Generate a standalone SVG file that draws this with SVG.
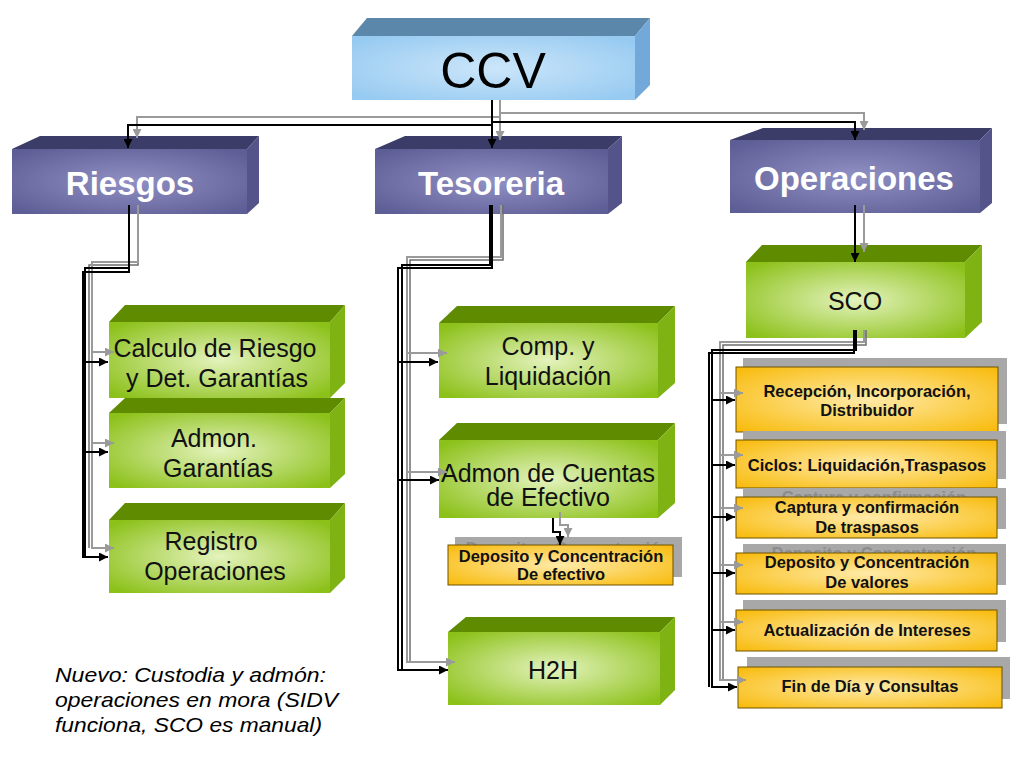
<svg xmlns="http://www.w3.org/2000/svg" width="1024" height="768" viewBox="0 0 1024 768">
<defs>
<radialGradient id="gBlue" cx="0.5" cy="0.5" r="0.65"><stop offset="0" stop-color="#cce6fa"/><stop offset="1" stop-color="#96caf1"/></radialGradient>
<radialGradient id="gPurp" cx="0.5" cy="0.5" r="0.65"><stop offset="0" stop-color="#9090c4"/><stop offset="1" stop-color="#5e5e96"/></radialGradient>
<radialGradient id="gGreen" cx="0.5" cy="0.5" r="0.65"><stop offset="0" stop-color="#e4f3bd"/><stop offset="1" stop-color="#8cc11a"/></radialGradient>
<radialGradient id="gYel" cx="0.5" cy="0.5" r="0.7"><stop offset="0" stop-color="#ffeaa8"/><stop offset="1" stop-color="#f8ba08"/></radialGradient>
<marker id="ak" viewBox="0 0 10 10" refX="10" refY="5" markerWidth="9" markerHeight="9" markerUnits="userSpaceOnUse" orient="auto"><path d="M0,0 L10,5 L0,10 z" fill="#000"/></marker>
<marker id="ag" viewBox="0 0 10 10" refX="10" refY="5" markerWidth="9" markerHeight="9" markerUnits="userSpaceOnUse" orient="auto"><path d="M0,0 L10,5 L0,10 z" fill="#9a9a9a"/></marker>
</defs>
<style>
.fb{fill:url(#gBlue)} .tb{fill:#5a87aa} .rb{fill:#72a9da}
.fp{fill:url(#gPurp)} .tp{fill:#3c3c68} .rp{fill:#54548a}
.fg{fill:url(#gGreen)} .tg{fill:#5e8b00} .rg{fill:#7fb314}
.fy{fill:url(#gYel);stroke:#6e5200;stroke-width:1}
.sh{fill:#a8a8a8}
.t1{font-family:'Liberation Sans',Arial,sans-serif;font-size:50px;fill:#000;text-anchor:middle}
.t2{font-family:'Liberation Sans',Arial,sans-serif;font-size:33px;font-weight:bold;fill:#fff;text-anchor:middle}
.t3{font-family:'Liberation Sans',Arial,sans-serif;font-size:25px;fill:#111;text-anchor:middle}
.t4{font-family:'Liberation Sans',Arial,sans-serif;font-size:16.5px;font-weight:bold;fill:#111;text-anchor:middle}
.gh{font-family:'Liberation Sans',Arial,sans-serif;font-size:16.5px;font-weight:bold;fill:#8c8c8c;text-anchor:middle}
.note{font-family:'Liberation Sans',Arial,sans-serif;font-size:21px;font-style:italic;fill:#000}
.k{fill:none;stroke:#000;stroke-width:2}
.g{fill:none;stroke:#9a9a9a;stroke-width:2}
.gd{fill:none;stroke:#6e6e6e;stroke-width:1.5}
</style>
<rect width="1024" height="768" fill="#fff"/>

<g id="ccv">
<polygon class="tb" points="352,36 367,18 650,18 635,36"/>
<polygon class="rb" points="635,36 650,18 650,85 635,100"/>
<rect class="fb" x="352" y="36" width="283" height="64"/>
<text class="t1" x="493" y="88">CCV</text>
</g>

<g id="riesgos">
<polygon class="tp" points="12,149 40,136 259,136 247,149"/>
<polygon class="rp" points="247,149 259,136 259,203 247,214"/>
<rect class="fp" x="12" y="149" width="235" height="65"/>
<text class="t2" x="130" y="195">Riesgos</text>
</g>

<g id="tesoreria">
<polygon class="tp" points="375,149 405,136 622,136 608,149"/>
<polygon class="rp" points="608,149 622,136 622,203 608,214"/>
<rect class="fp" x="375" y="149" width="233" height="65"/>
<text class="t2" x="491" y="195">Tesoreria</text>
</g>

<g id="operaciones">
<polygon class="tp" points="730,140 763,128 992,128 980,140"/>
<polygon class="rp" points="980,140 992,128 992,203 980,213"/>
<rect class="fp" x="730" y="140" width="250" height="73"/>
<text class="t2" x="854" y="190">Operaciones</text>
</g>

<g id="calculo">
<polygon class="tg" points="109,322 125,305 345,305 330,322"/>
<polygon class="rg" points="330,322 345,305 345,383 330,398"/>
<rect class="fg" x="109" y="322" width="221" height="76"/>
<text class="t3" x="215" y="357">Calculo de Riesgo</text>
<text class="t3" x="217" y="387">y Det. Garantías</text>
</g>

<g id="admon-garantias">
<polygon class="tg" points="109,413 125,398 345,398 330,413"/>
<polygon class="rg" points="330,413 345,398 345,474 330,488"/>
<rect class="fg" x="109" y="413" width="221" height="75"/>
<text class="t3" x="214" y="447">Admon.</text>
<text class="t3" x="218" y="477">Garantías</text>
</g>

<g id="registro">
<polygon class="tg" points="109,520 125,503 345,503 330,520"/>
<polygon class="rg" points="330,520 345,503 345,578 330,593"/>
<rect class="fg" x="109" y="520" width="221" height="73"/>
<text class="t3" x="211" y="550">Registro</text>
<text class="t3" x="215" y="580">Operaciones</text>
</g>

<g id="comp">
<polygon class="tg" points="439,323 457,306 675,306 658,323"/>
<polygon class="rg" points="658,323 675,306 675,383 658,398"/>
<rect class="fg" x="439" y="323" width="219" height="75"/>
<text class="t3" x="548" y="355">Comp. y</text>
<text class="t3" x="548" y="385">Liquidación</text>
</g>

<g id="admon-cuentas">
<polygon class="tg" points="439,440 457,423 675,423 658,440"/>
<polygon class="rg" points="658,440 675,423 675,503 658,518"/>
<rect class="fg" x="439" y="440" width="219" height="78"/>
<text class="t3" x="548" y="482">Admon de Cuentas</text>
<text class="t3" x="548" y="506">de Efectivo</text>
</g>

<g id="deposito-efectivo">
<rect class="sh" x="455" y="537" width="227" height="40"/>
<text class="gh" x="568" y="554">Deposito y Concentración</text>
<rect class="fy" x="448" y="545" width="225" height="40"/>
<text class="t4" x="561" y="562">Deposito y Concentración</text>
<text class="t4" x="561" y="580">De efectivo</text>
</g>

<g id="h2h">
<polygon class="tg" points="448,632 466,617 675,617 660,632"/>
<polygon class="rg" points="660,632 675,617 675,690 660,705"/>
<rect class="fg" x="448" y="632" width="212" height="73"/>
<text class="t3" x="553" y="679">H2H</text>
</g>

<g id="sco">
<polygon class="tg" points="746,262 762,245 982,245 965,262"/>
<polygon class="rg" points="965,262 982,245 982,322 965,338"/>
<rect class="fg" x="746" y="262" width="219" height="76"/>
<text class="t3" x="855" y="310">SCO</text>
</g>

<g id="recepcion">
<rect class="sh" x="743" y="358" width="264" height="66"/>
<rect class="fy" x="736" y="367" width="262" height="65"/>
<text class="t4" x="867" y="397">Recepción, Incorporación,</text>
<text class="t4" x="867" y="416">Distribuidor</text>
</g>

<g id="ciclos">
<rect class="sh" x="743" y="431" width="263" height="48"/>
<rect class="fy" x="736" y="440" width="261" height="48"/>
<text class="t4" x="867" y="471">Ciclos: Liquidación,Traspasos</text>
</g>

<g id="captura">
<rect class="sh" x="743" y="488" width="263" height="41"/>
<text class="gh" x="874" y="503">Captura y confirmación</text>
<rect class="fy" x="736" y="497" width="261" height="41"/>
<text class="t4" x="867" y="513">Captura y confirmación</text>
<text class="t4" x="867" y="533">De traspasos</text>
</g>

<g id="deposito-valores">
<rect class="sh" x="743" y="544" width="263" height="41"/>
<text class="gh" x="874" y="559">Deposito y Concentración</text>
<rect class="fy" x="736" y="553" width="261" height="41"/>
<text class="t4" x="867" y="568">Deposito y Concentración</text>
<text class="t4" x="867" y="588">De valores</text>
</g>

<g id="actualizacion">
<rect class="sh" x="743" y="600" width="263" height="42"/>
<rect class="fy" x="736" y="610" width="261" height="41"/>
<text class="t4" x="867" y="636">Actualización de Intereses</text>
</g>

<g id="fin-de-dia">
<rect class="sh" x="747" y="657" width="263" height="42"/>
<rect class="fy" x="738" y="667" width="264" height="41"/>
<text class="t4" x="870" y="692">Fin de Día y Consultas</text>
</g>

<g id="connectors">
<path class="g" d="M500,100 V117 H137 V138" marker-end="url(#ag)"/>
<path class="g" d="M500,100 V113 H864 V130" marker-end="url(#ag)"/>
<path class="g" d="M500,100 V140" marker-end="url(#ag)"/>
<path class="k" d="M492,100 V125 H128 V148" marker-end="url(#ak)"/>
<path class="k" d="M492,100 V122 H855 V140" marker-end="url(#ak)"/>
<path class="k" d="M492,100 V148" marker-end="url(#ak)"/>
<path class="gd" d="M138,205 V265 H89 V548"/>
<path class="g" d="M138,205 V262 H92 V352 H114" marker-end="url(#ag)"/>
<path class="g" d="M92,352 V443 H114" marker-end="url(#ag)"/>
<path class="g" d="M92,443 V548 H114" marker-end="url(#ag)"/>
<path class="k" d="M129,205 V268 H85 V557"/>
<path class="k" d="M129,205 V272 H83 V362 H108" marker-end="url(#ak)"/>
<path class="k" d="M83,362 V452 H108" marker-end="url(#ak)"/>
<path class="k" d="M83,452 V557 H108" marker-end="url(#ak)"/>
<path class="gd" d="M503,205 V260 H410 V662"/>
<path class="g" d="M501,205 V257 H407 V353 H447" marker-end="url(#ag)"/>
<path class="g" d="M407,353 V472 H447" marker-end="url(#ag)"/>
<path class="g" d="M407,472 V662 H455" marker-end="url(#ag)"/>
<path class="k" d="M490,205 V265 H402 V670"/>
<path class="k" d="M492,205 V268 H398 V362 H438" marker-end="url(#ak)"/>
<path class="k" d="M398,362 V480 H439" marker-end="url(#ak)"/>
<path class="k" d="M398,480 V670 H448" marker-end="url(#ak)"/>
<path class="g" d="M560,512 V525 H568 V537" marker-end="url(#ag)"/>
<path class="k" d="M553,518 V532 H560 V545" marker-end="url(#ak)"/>
<path class="g" d="M864,205 V252" marker-end="url(#ag)"/>
<path class="k" d="M855,205 V262" marker-end="url(#ak)"/>
<path class="gd" d="M866,330 V345 H723 V680"/>
<path class="g" d="M864,330 V342 H720 V393 H743" marker-end="url(#ag)"/>
<path class="g" d="M720,393 V455 H743" marker-end="url(#ag)"/>
<path class="g" d="M720,455 V508 H743" marker-end="url(#ag)"/>
<path class="g" d="M720,508 V565 H743" marker-end="url(#ag)"/>
<path class="g" d="M720,565 V622 H743" marker-end="url(#ag)"/>
<path class="g" d="M720,622 V680 H746" marker-end="url(#ag)"/>
<path class="k" d="M854,330 V353 H709 V687"/>
<path class="k" d="M856,330 V350 H712 V400 H735" marker-end="url(#ak)"/>
<path class="k" d="M712,400 V465 H735" marker-end="url(#ak)"/>
<path class="k" d="M712,465 V517 H735" marker-end="url(#ak)"/>
<path class="k" d="M712,517 V573 H735" marker-end="url(#ak)"/>
<path class="k" d="M712,573 V630 H735" marker-end="url(#ak)"/>
<path class="k" d="M712,630 V687 H737" marker-end="url(#ak)"/>
</g>

<g id="note">
<text class="note" x="55" y="682" textLength="271" lengthAdjust="spacingAndGlyphs">Nuevo: Custodia y admón:</text>
<text class="note" x="55" y="707" textLength="283" lengthAdjust="spacingAndGlyphs">operaciones en mora (SIDV</text>
<text class="note" x="55" y="732" textLength="267" lengthAdjust="spacingAndGlyphs">funciona, SCO es manual)</text>
</g>
</svg>
